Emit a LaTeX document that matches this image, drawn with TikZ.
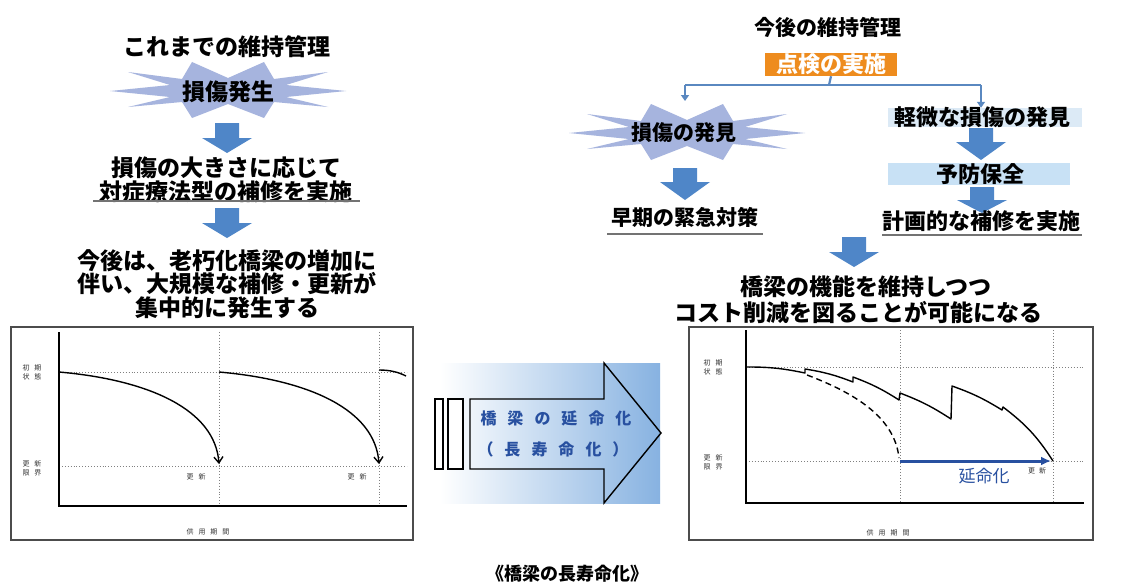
\documentclass[tikz,border=0pt]{standalone}
\usepackage{fontspec}
\setmainfont{Noto Sans CJK JP}
\usetikzlibrary{arrows.meta}
\definecolor{abl}{RGB}{79,134,200}
\definecolor{starc}{RGB}{166,180,222}
\definecolor{orng}{RGB}{238,140,30}
\definecolor{lblue}{RGB}{200,225,245}
\definecolor{lblue2}{RGB}{220,234,246}
\definecolor{dblue}{RGB}{40,80,160}
\definecolor{linec}{RGB}{90,136,192}
\definecolor{gradb}{RGB}{135,178,225}
\tikzset{
  x=1pt,y=-1pt,
  txt/.style={font=\fontsize{#1}{23.5}\selectfont\bfseries, inner sep=0, align=center},
  txt/.default=23,
  sml/.style={font=\fontsize{7}{9}\selectfont, inner sep=0, align=center, text=black!80},
  frame/.style={draw=black!70, line width=1.2},
  axis/.style={draw=black, line width=1.3},
  gridl/.style={draw=black!50, dotted, line width=0.9},
  curve/.style={draw=black, line width=1.4},
  uline/.style={draw=black!55, line width=1.6},
  tree/.style={draw=linec, line width=2.2},
}
\newcommand{\barr}[4]{% x, ytop, yjoin, ytip
  \fill[abl] ({#1-12},#2) -- ({#1+12},#2) -- ({#1+12},#3) -- ({#1+25},#3) -- (#1,#4) -- ({#1-25},#3) -- ({#1-12},#3) -- cycle;}
\newcommand{\burst}[2]{% cx, cy
  \fill[starc, shift={(#1,#2)}] (-36,-29) -- (0,-13) -- (36,-29) -- (46,-12) -- (100,-19) -- (58,-6) -- (118,0) -- (58,6) -- (100,16) -- (46,11) -- (36,27) -- (0,13) -- (-36,27) -- (-46,11) -- (-100,16) -- (-58,6) -- (-118,0) -- (-58,-6) -- (-100,-19) -- (-46,-12) -- cycle;}
\begin{document}
\begin{tikzpicture}
\useasboundingbox (0,0) rectangle (1129,586);
\fill[white] (0,0) rectangle (1129,586);

% ---------- left column ----------
\node[txt] (lt) at (227,47) {これまでの維持管理};
\burst{228}{91}
\node[txt] (ld) at (228,92) {損傷発生};
\barr{227}{123}{138}{153}
\node[txt] (l2) at (226,180) {損傷の大きさに応じて\\対症療法型の補修を実施};
\draw[uline] (93,201) -- (360,201);
\barr{227}{208}{223}{238}
\node[txt] (l3) at (227,284) {今後は、老朽化橋梁の増加に\\伴い、大規模な補修・更新が\\集中的に発生する};

% ---------- right tree ----------
\node[txt=21] (rt) at (828,27) {今後の維持管理};
\node[fill=orng, text=white, font=\fontsize{22}{24}\selectfont\bfseries, minimum width=132, minimum height=23, inner sep=0] (insp) at (831,64.5) {点検の実施};
\coordinate (jn) at (829,85);
\coordinate (jl) at (685,85);
\coordinate (jr) at (981,85);
\draw[tree] (insp.south) -- (jn);
\draw[tree] (jl) -- (jr);
\burst{687}{133}
\node[txt=21] (dmg) at (684,133) {損傷の発見};
\node[fill=lblue2, minimum width=194, minimum height=19, inner sep=0] (minbg) at (985,117.5) {};
\node[txt=22] (minor) at (982,117) {軽微な損傷の発見};
\draw[tree, -{Triangle[width=8pt,length=6pt]}] (jl) -- (685,101);
\draw[tree, -{Triangle[width=8pt,length=6pt]}] (jr) -- (minbg.north -| jr);
\barr{685}{168}{182}{200}
\node[txt=21] (urg) at (685,217) {早期の緊急対策};
\draw[uline] (607,234) -- (763,234);
\barr{981}{128}{142}{160}
\node[fill=lblue, minimum width=182, minimum height=22, inner sep=0] (prevbg) at (979,174) {};
\node[txt=22] (prev) at (980,174) {予防保全};
\barr{982}{187}{200}{213}
\node[txt=22] (plan) at (981,221) {計画的な補修を実施};
\draw[uline] (882,235) -- (1082,235);
\barr{854}{237}{252}{267}
\node[txt] (res1) at (866,287) {橋梁の機能を維持しつつ};
\node[txt] (res2) at (858,312) {コスト削減を図ることが可能になる};

% ---------- left chart ----------
\draw[frame] (11,327) rectangle (413,540);
\draw[gridl] (59,372) -- (407,372);
\draw[gridl] (59,466) -- (407,466);
\draw[gridl] (219,332) -- (219,506);
\draw[gridl] (379,332) -- (379,506);
\draw[axis] (59,332) -- (59,506) -- (407,506);
\draw[curve, -{Straight Barb[length=6pt,width=9pt]}] (59,372) .. controls (150,380) and (215,410) .. (219,464);
\draw[curve, -{Straight Barb[length=6pt,width=9pt]}] (219,372) .. controls (310,380) and (375,410) .. (379,464);
\draw[curve] (379,370) .. controls (390,370) and (398,372) .. (406,376);
\node[sml] (la1) at (32,372) {初\hspace{5pt}期\\状\hspace{5pt}態};
\node[sml] (la2) at (32,468) {更\hspace{5pt}新\\限\hspace{5pt}界};
\node[sml] (la3) at (196,477) {更\hspace{5pt}新};
\node[sml] (la4) at (357,477) {更\hspace{5pt}新};
\node[sml] (la5) at (208,532) {供\hspace{5pt}用\hspace{5pt}期\hspace{5pt}間};

% ---------- middle arrow ----------
\shade[left color=white, right color=gradb] (440,363) rectangle (660,503);
\draw[black, line width=1.4, fill=white] (435,399) rectangle (443,469);
\draw[black, line width=1.4, fill=white] (448,399) rectangle (463,469);
\draw[black, line width=1.4] (470,399) -- (604,399) -- (604,363) -- (661,433) -- (604,503) -- (604,469) -- (470,469) -- cycle;
\node[font=\fontsize{16}{18}\selectfont\bfseries, text=dblue, inner sep=0] (m1) at (556,418) {橋\hspace{11pt}梁\hspace{11pt}の\hspace{11pt}延\hspace{11pt}命\hspace{11pt}化};
\node[font=\fontsize{16}{18}\selectfont\bfseries, text=dblue, inner sep=0] (m2) at (553,449) {（\hspace{11pt}長\hspace{11pt}寿\hspace{11pt}命\hspace{11pt}化\hspace{11pt}）};

% ---------- right chart ----------
\draw[frame] (689,327) rectangle (1093,540);
\draw[gridl] (746,367) -- (1085,367);
\draw[gridl] (746,461) -- (1085,461);
\draw[gridl] (900,330) -- (900,503);
\draw[gridl] (1053,330) -- (1053,503);
\draw[axis] (746,330) -- (746,503) -- (1084,503);
\draw[curve, line join=round] (746,367) to[bend left=6] (805,373) -- (805,369) to[bend left=6] (853,382) -- (853,377) to[bend left=6] (899,400) -- (900,393) to[bend left=6] (951,419) -- (952,386) to[bend left=6] (1002,410) -- (1003,407) to[bend left=10] (1053,461);
\draw[curve, dashed, dash pattern=on 6pt off 4pt] (807,375) .. controls (860,395) and (895,420) .. (899,458);
\draw[draw=dblue, line width=3, -{Latex[length=10pt,width=9pt]}] (900,461) -- (1051,461);
\node[font=\fontsize{17}{19}\selectfont, text=dblue, inner sep=0] (ext) at (984,476) {延命化};
\node[sml] (ra1) at (713,367) {初\hspace{5pt}期\\状\hspace{5pt}態};
\node[sml] (ra2) at (713,462) {更\hspace{5pt}新\\限\hspace{5pt}界};
\node[sml] (ra3) at (1037,471) {更\hspace{4pt}新};
\node[sml] (ra4) at (888,533) {供\hspace{5pt}用\hspace{5pt}期\hspace{5pt}間};

% ---------- caption ----------
\node[txt=18] (cap) at (567,574) {《橋梁の長寿命化》};
\end{tikzpicture}
\end{document}
